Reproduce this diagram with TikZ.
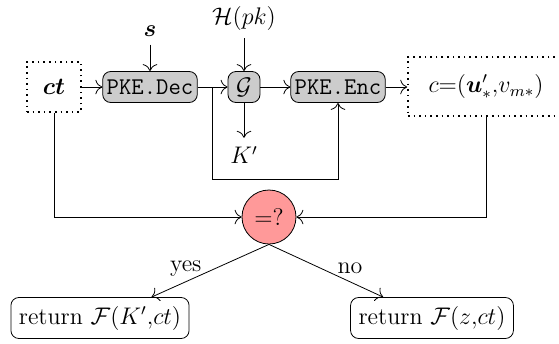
\documentclass[12pt,tikz,border=0pt]{standalone}
\usepackage{bm}
\usetikzlibrary{calc,arrows.meta}
\tikzset{
  proc/.style={draw, rounded corners=4pt, fill=black!20, font=\ttfamily, inner sep=2pt},
  dotbox/.style={draw, dotted, thick},
  retbox/.style={draw, rounded corners=4pt, fill=white, minimum height=20.5pt},
  test/.style={circle, draw, fill=red!40, minimum size=27pt, inner sep=0pt},
  conn/.style={-{To[scale=1.4]}},
}
\begin{document}
\begin{tikzpicture}[x=0.5pt, y=-0.5pt]
\useasboundingbox (0,0) rectangle (559,344);

% decryption / re-encryption chain
\node[dotbox, minimum width=27pt, minimum height=25pt] (ct) at (54,87) {$\bm{ct}$};
\node[proc, minimum width=47pt, minimum height=15.5pt] (dec) at (150,87) {PKE.Dec};
\node[proc, minimum width=16pt, minimum height=15.5pt, inner sep=0pt] (G) at (244,87) {$\mathcal{G}$};
\node[proc, minimum width=47pt, minimum height=15.5pt] (enc) at (338,87) {PKE.Enc};
\node[dotbox, minimum width=78pt, minimum height=29.5pt] (cout) at (486,86.5) {$c{=}(\bm{u}'_{*}{,}v_{m*})$};

% side inputs and output
\node (s) at (150,31) {$\bm{s}$};
\node (H) at (244,18) {$\mathcal{H}(pk)$};
\node (K) at (244,155) {$K'$};

\draw[conn] (ct) -- (dec);
\draw[conn] (s) -- (dec);
\draw[conn] (dec) -- (G);
\draw[conn] (H) -- (G);
\draw[conn] (G) -- (K);
\draw[conn] (G) -- (enc);
\draw[conn] (enc) -- (enc -| cout.west);

% message fed forward to the encryption
\coordinate (br) at (212,87);
\coordinate (lp) at (212,179);
\draw[conn] (br) -- (lp) -| (enc.south);

% comparison
\node[test] (eq) at (269,217) {$=?$};
\draw[conn] (ct.south) |- (eq.west);
\draw[conn] (cout.south) |- (eq.east);

% results
\node[retbox, minimum width=88pt] (ry) at (100,318) {return $\mathcal{F}(K'{,}ct)$};
\node[retbox, minimum width=80pt] (rn) at (432,318) {return $\mathcal{F}(z{,}ct)$};
\draw[conn] (eq.south) -- ($(ry.north east)+(-38,0)$)
  node[midway, shift={(-24.5,-2)}] {yes};
\draw[conn] (eq.south) -- ($(rn.north west)+(33,0)$)
  node[midway, shift={(24,-2)}] {no};
\end{tikzpicture}
\end{document}
